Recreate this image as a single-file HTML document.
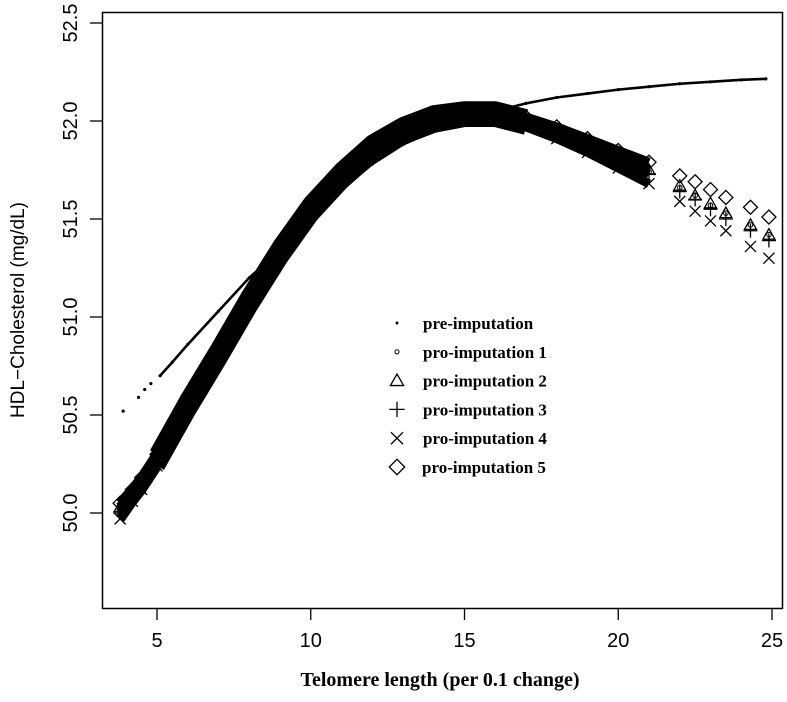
<!DOCTYPE html>
<html><head><meta charset="utf-8"><style>
body{margin:0;background:#fff}
svg text{font-family:"Liberation Sans",sans-serif}
</style></head><body>
<svg id="chart" width="787" height="697" xmlns="http://www.w3.org/2000/svg">
<g id="plot"></g>
<rect x="102.5" y="12.5" width="680" height="596" fill="none" stroke="#000" stroke-width="1.5"/>
<g id="axes"></g>
<text x="440" y="686" text-anchor="middle" style="font-family:'Liberation Serif',serif;font-weight:bold;font-size:20px">Telomere length (per 0.1 change)</text>
<text transform="translate(24,310) rotate(-90)" text-anchor="middle" font-size="19">HDL−Cholesterol (mg/dL)</text>
<g id="legend"></g>
</svg>
<script>
const xTicks=[5,10,15,20,25];
const yTicks=[50.0,50.5,51.0,51.5,52.0,52.5];
const yTickLabels=["50.0","50.5","51.0","51.5","52.0","52.5"];
const preX=[3.9,4.4,4.6,4.8,5.1,5.5,6,7,8,8.5,9,10,10.5,11,12,13,14,15,16,17,18,19,20,21,22,23,24,24.8];
const preY=[50.52,50.59,50.63,50.66,50.7,50.77,50.86,51.03,51.2,51.27,51.35,51.5,51.58,51.65,51.78,51.88,51.95,52.01,52.05,52.09,52.12,52.14,52.16,52.175,52.19,52.2,52.21,52.215];
const impX=[3.8,4.2,4.5,5,5.5,6,7,8,9,10,11,12,13,14,15,16,17,18,19,20,21,22,22.5,23,23.5,24.3,24.9];
const imp1Y=[50.02,50.09,50.15,50.27,50.41,50.55,50.81,51.08,51.33,51.55,51.72,51.86,51.95,52.01,52.04,52.04,52.0,51.95,51.88,51.81,51.74,51.66,51.62,51.57,51.53,51.47,51.42];
const imp2Y=[50.03,50.1,50.16,50.28,50.42,50.56,50.82,51.09,51.34,51.56,51.73,51.87,51.96,52.02,52.05,52.04,52.0,51.95,51.88,51.82,51.75,51.67,51.62,51.58,51.53,51.47,51.42];
const imp3Y=[50.0,50.08,50.14,50.26,50.4,50.54,50.8,51.07,51.32,51.54,51.71,51.85,51.94,52.0,52.03,52.03,51.99,51.94,51.87,51.8,51.73,51.64,51.6,51.55,51.5,51.44,51.39];
const imp4Y=[49.97,50.06,50.12,50.24,50.38,50.52,50.78,51.05,51.3,51.52,51.69,51.83,51.92,51.98,52.01,52.01,51.97,51.91,51.84,51.76,51.68,51.59,51.54,51.49,51.44,51.36,51.3];
const imp5Y=[50.05,50.12,50.18,50.3,50.44,50.58,50.84,51.11,51.36,51.58,51.75,51.89,51.98,52.04,52.06,52.06,52.02,51.97,51.91,51.85,51.79,51.72,51.69,51.65,51.61,51.56,51.51];
const legendLabels=["pre-imputation","pro-imputation 1","pro-imputation 2","pro-imputation 3","pro-imputation 4","pro-imputation 5"];

const NS="http://www.w3.org/2000/svg";
const sx=v=>157+(v-5)*30.75;
const sy=v=>121+(52-v)*196;
function mk(tag,attrs,parent){const e=document.createElementNS(NS,tag);for(const k in attrs)e.setAttribute(k,attrs[k]);parent.appendChild(e);return e;}
const plot=document.getElementById('plot'),axes=document.getElementById('axes'),legend=document.getElementById('legend');

function marker(type,x,y,parent,s){
  s=s||1;let e;
  if(type==='dot'){e=mk('circle',{cx:x,cy:y,r:1.6*s,fill:'#000'},parent);}
  else if(type==='circle'){e=mk('circle',{cx:x,cy:y,r:2.3*s,fill:'none',stroke:'#000','stroke-width':1},parent);}
  else if(type==='tri'){e=mk('path',{d:`M${x},${y-6*s}L${x+6*s},${y+4.5*s}L${x-6*s},${y+4.5*s}Z`,fill:'none',stroke:'#000','stroke-width':1.3},parent);}
  else if(type==='plus'){e=mk('path',{d:`M${x-7*s},${y}H${x+7*s}M${x},${y-7*s}V${y+7*s}`,fill:'none',stroke:'#000','stroke-width':1.3},parent);}
  else if(type==='x'){e=mk('path',{d:`M${x-5.5*s},${y-5.5*s}L${x+5.5*s},${y+5.5*s}M${x+5.5*s},${y-5.5*s}L${x-5.5*s},${y+5.5*s}`,fill:'none',stroke:'#000','stroke-width':1.3},parent);}
  else {e=mk('path',{d:`M${x},${y-7*s}L${x+7*s},${y}L${x},${y+7*s}L${x-7*s},${y}Z`,fill:'none',stroke:'#000','stroke-width':1.3},parent);}
  return e;
}

const series=[[imp1Y,'circle'],[imp2Y,'tri'],[imp3Y,'plus'],[imp4Y,'x'],[imp5Y,'diamond']];
series.forEach((s,i)=>{
  const g=mk('g',{},plot);
  
  
  const a=[],b=[],c=[];
  impX.forEach((x,j)=>{const p=sx(x)+','+sy(s[0][j]);
    if(x<=5)c.push(p); if(x>=5&&x<=17)a.push(p); if(x>=17&&x<=21)b.push(p);});
  const p0=mk('polyline',{points:c.join(' '),fill:'none',stroke:'#000','stroke-width':10,'stroke-linejoin':'round'},g);
  
  
  const pl=mk('polyline',{points:a.join(' '),fill:'none',stroke:'#000','stroke-width':16,'stroke-linejoin':'round'},g);
  
  
  const p2=mk('polyline',{points:b.join(' '),fill:'none',stroke:'#000','stroke-width':9,'stroke-linejoin':'round'},g);
  
  
  impX.forEach((x,j)=>{const m=marker(s[1],sx(x),sy(s[0][j]),g);
    
    });
});
const pg=mk('g',{},plot);


const pp=preX.map((x,j)=>[x,preY[j]]).filter(d=>d[0]>=5).map(d=>sx(d[0])+','+sy(d[1])).join(' ');
const pline=mk('polyline',{points:pp,fill:'none',stroke:'#000','stroke-width':2.6},pg);


preX.forEach((x,j)=>{const m=marker('dot',sx(x),sy(preY[j]),pg);
  
  });

xTicks.forEach(v=>{
  const t=mk('line',{x1:sx(v),x2:sx(v),y1:608,y2:620,stroke:'#000','stroke-width':1.3},axes);
  
  
  const l=mk('text',{x:sx(v),y:647,'text-anchor':'middle','font-size':20},axes);l.textContent=v;
  
  
});
yTicks.forEach((v,i)=>{
  const y=sy(v);
  const t=mk('line',{x1:90,x2:102,y1:y,y2:y,stroke:'#000','stroke-width':1.3},axes);
  
  
  const l=mk('text',{transform:`translate(77,${y}) rotate(-90)`,'text-anchor':'middle','font-size':20},axes);l.textContent=yTickLabels[i];
  
  
});
const types=['dot','circle','tri','plus','x','diamond'];
legendLabels.forEach((lab,i)=>{
  const y=323+i*28.8;
  const g=mk('g',{},legend);
  
  
  marker(types[i],397,y,g,i<2?0.9:1.1);
  const t=mk('text',{x:i===5?422:423,y:y+6,style:"font-family:'Liberation Serif',serif;font-weight:bold;font-size:17px"},g);
  t.textContent=lab;
});
</script>
</body></html>
